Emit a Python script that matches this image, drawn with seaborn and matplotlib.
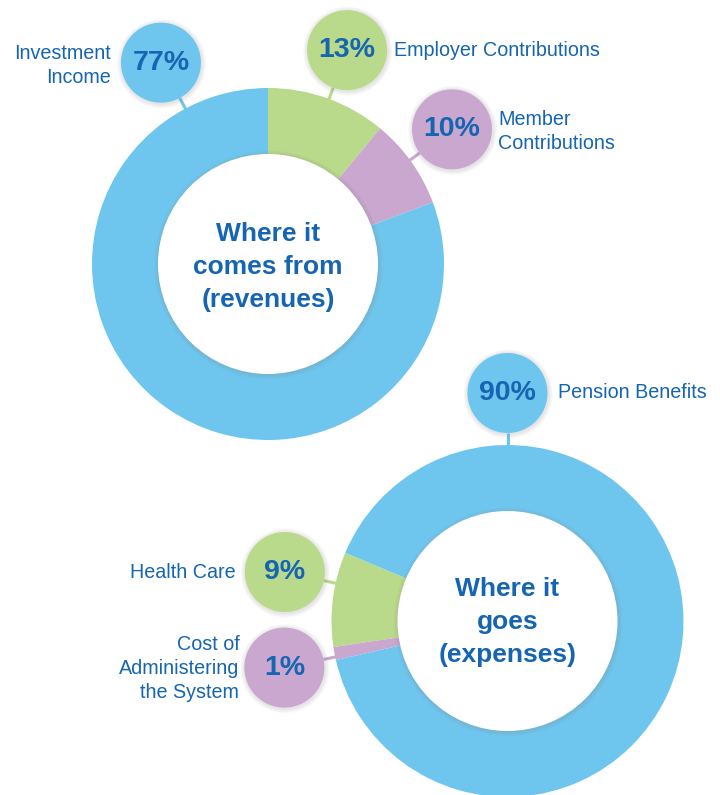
import numpy as np
import matplotlib
matplotlib.use("Agg")
import matplotlib.pyplot as plt
import seaborn as sns
from matplotlib.patches import Circle

# revenues (top donut) -- wedge shares as drawn, labels as printed
rev_names = ["Employer Contributions", "Member\nContributions", "Investment\nIncome"]
rev_labels = ["13%", "10%", "77%"]
rev_shares = [11.0, 8.3, 80.7]

# expenses (bottom donut)
exp_names = ["Health Care", "Cost of\nAdministering\nthe System", "Pension Benefits"]
exp_labels = ["9%", "1%", "90%"]
exp_shares = [8.7, 1.2, 90.1]

colors = ["#b9d98b", "#c9a7cf", "#6ec6ee"]
text_col = "#1565b2"

sns.set_theme(style="white")
plt.rcParams["font.family"] = ["Liberation Sans", "DejaVu Sans"]

W, H = 720, 795
fig = plt.figure(figsize=(W / 100, H / 100), dpi=100)
ax = fig.add_axes([0, 0, 1, 1])

R_OUT, R_IN, R_BUB, D_BUB = 176, 110, 40, 228
LBL_FS = 14.2


def py(y):
    # pixel row -> data y
    return H - y


def soft_shadow(cx, cy, r, z):
    for k in range(1, 6):
        ax.add_patch(Circle((cx + 0.6, cy - 1.0), r + k * 0.9, color="#888888",
                            alpha=0.045, lw=0, zorder=z))


def donut(cx, cy, shares, start, ccw, title, toff):
    ax.pie(shares, colors=colors, startangle=start, counterclock=ccw,
           center=(cx, cy), radius=R_OUT,
           wedgeprops=dict(width=R_OUT - R_IN + 2, linewidth=0))
    soft_shadow(cx, cy, R_IN, 3)
    ax.add_patch(Circle((cx, cy), R_IN, color="white", lw=0, zorder=4))
    ax.text(cx, cy + toff, title, ha="center", va="center", fontsize=19,
            fontweight="bold", color=text_col, linespacing=1.48, zorder=5)


def bubble(cx, cy, ang, col, pct, name, side, dx, dy=0):
    a = np.deg2rad(ang)
    bx, by = cx + D_BUB * np.cos(a), cy + D_BUB * np.sin(a)
    r0, r1 = D_BUB - R_BUB, R_OUT - 1
    ax.plot([cx + r0 * np.cos(a), cx + r1 * np.cos(a)],
            [cy + r0 * np.sin(a), cy + r1 * np.sin(a)],
            color=col, lw=2.2, zorder=2, solid_capstyle="butt")
    soft_shadow(bx, by, R_BUB, 6)
    ax.add_patch(Circle((bx, by), R_BUB, color=col, lw=0, zorder=7))
    ax.text(bx, by, pct, ha="center", va="center", fontsize=20.5,
            fontweight="bold", color=text_col, zorder=8)
    if side == "right":
        ax.text(bx + R_BUB + dx, by + dy, name, ha="left", va="center",
                fontsize=LBL_FS, color=text_col, linespacing=1.35, zorder=8)
    else:
        ax.text(bx - R_BUB - dx, by + dy, name, ha="right", va="center",
                fontsize=LBL_FS, color=text_col, linespacing=1.35, zorder=8)


# top donut
tcx, tcy = 268, py(264)
donut(tcx, tcy, rev_shares, 90, False, "Where it\ncomes from\n(revenues)", -3)
bubble(tcx, tcy, 69.7, colors[0], rev_labels[0], rev_names[0], "right", 7, 0)
bubble(tcx, tcy, 36.2, colors[1], rev_labels[1], rev_names[1], "right", 6, -2)
bubble(tcx, tcy, 118.0, colors[2], rev_labels[2], rev_names[2], "left", 10, -3)

# bottom donut
bcx, bcy = 507.5, py(621)
donut(bcx, bcy, exp_shares, 157.2, True, "Where it\ngoes\n(expenses)", -1)
bubble(bcx, bcy, 167.6, colors[0], exp_labels[0], exp_names[0], "left", 9, 0)
bubble(bcx, bcy, 191.8, colors[1], exp_labels[1], exp_names[1], "left", 5, -1)
bubble(bcx, bcy, 90.0, colors[2], exp_labels[2], exp_names[2], "right", 11, 0)

ax.set_xlim(0, W)
ax.set_ylim(0, H)
ax.set_aspect("equal")
ax.axis("off")

fig.savefig("out.png", dpi=100, facecolor="white")
